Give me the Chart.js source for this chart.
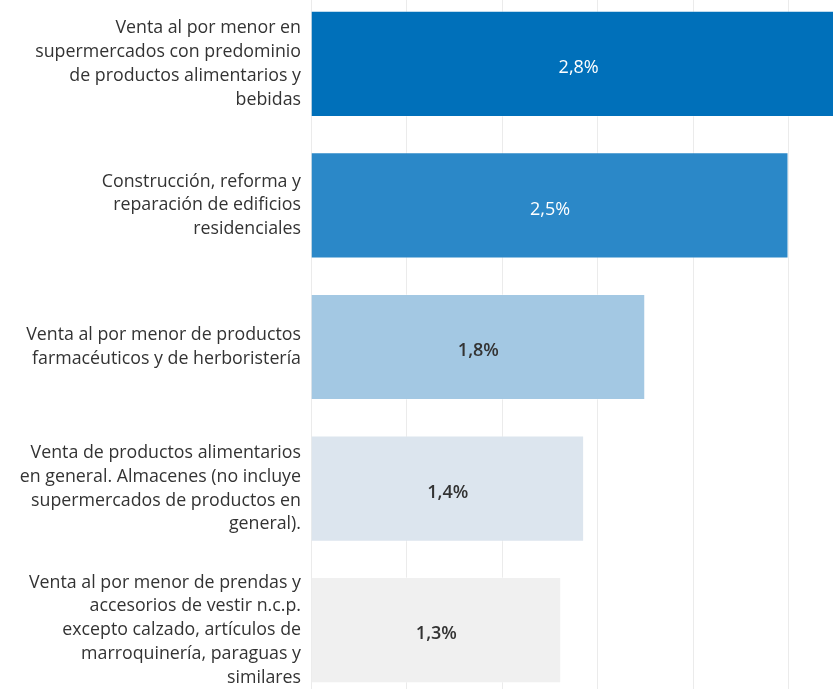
<!DOCTYPE html>
<html>
<head>
<meta charset="utf-8">
<script src="https://cdn.jsdelivr.net/npm/chart.js@4"></script>
<style>
  html, body { margin: 0; padding: 0; background: #fff; overflow: hidden; width: 833px; height: 689px; }
  #wrap { position: absolute; left: 0; top: -7px; width: 884px; height: 708px; }
</style>
</head>
<body>
<div id="wrap"><canvas id="grafico"></canvas></div>
<script>
// Actividades (etiquetas del eje, en varias líneas)
const actividades = [
  ['Venta al por menor en', 'supermercados con predominio', 'de productos alimentarios y', 'bebidas'],
  ['Construcción, reforma y', 'reparación de edificios', 'residenciales'],
  ['Venta al por menor de productos', 'farmacéuticos y de herboristería'],
  ['Venta de productos alimentarios', 'en general. Almacenes (no incluye', 'supermercados de productos en', 'general).'],
  ['Venta al por menor de prendas y', 'accesorios de vestir n.c.p.', 'excepto calzado, artículos de', 'marroquinería, paraguas y', 'similares']
];
// Participación (%)
const participacion = [2.80, 2.50, 1.75, 1.43, 1.31];
const coloresBarras = ['#0070ba', '#2b88c8', '#a3c8e3', '#dce5ee', '#f0f0f0'];
const coloresTexto = ['#ffffff', '#ffffff', '#333333', '#333333', '#333333'];

const fuente = "'Open Sans', sans-serif";

// etiqueta del valor centrada dentro de cada barra
const etiquetasBarras = {
  id: 'etiquetasBarras',
  afterDatasetsDraw(chart) {
    const { ctx } = chart;
    const meta = chart.getDatasetMeta(0);
    ctx.save();
    ctx.textAlign = 'center';
    ctx.textBaseline = 'middle';
    meta.data.forEach((bar, i) => {
      const v = participacion[i];
      const txt = (Math.round(v * 10) / 10).toFixed(1).replace('.', ',') + '%';
      ctx.font = (i < 2 ? '400 ' : '600 ') + '18px ' + fuente;
      ctx.fillStyle = coloresTexto[i];
      ctx.fillText(txt, (bar.base + bar.x) / 2, bar.y + 4);
    });
    ctx.restore();
  }
};

new Chart(document.getElementById('grafico'), {
  type: 'bar',
  data: {
    labels: actividades,
    datasets: [{
      data: participacion,
      backgroundColor: coloresBarras,
      borderColor: 'rgba(255,255,255,0.35)',
      borderWidth: 1,
      categoryPercentage: 1,
      barPercentage: 0.75
    }]
  },
  options: {
    indexAxis: 'y',
    responsive: true,
    maintainAspectRatio: false,
    animation: false,
    layout: { padding: 0 },
    plugins: {
      legend: { display: false },
      tooltip: { enabled: false }
    },
    scales: {
      x: {
        min: 0,
        max: 3,
        ticks: { display: false, stepSize: 0.5 },
        grid: { color: '#ebebeb', lineWidth: 1, drawTicks: false },
        border: { display: false }
      },
      y: {
        afterFit(scale) {
          scale.width = 311;
          scale.paddingTop = 0;
          scale.paddingBottom = 0;
        },
        ticks: {
          color: '#333',
          padding: 10,
          font: { family: fuente, size: 17.8, lineHeight: 1.34 }
        },
        grid: { display: false, drawTicks: false },
        border: { display: false }
      }
    }
  },
  plugins: [etiquetasBarras]
});
</script>
</body>
</html>
